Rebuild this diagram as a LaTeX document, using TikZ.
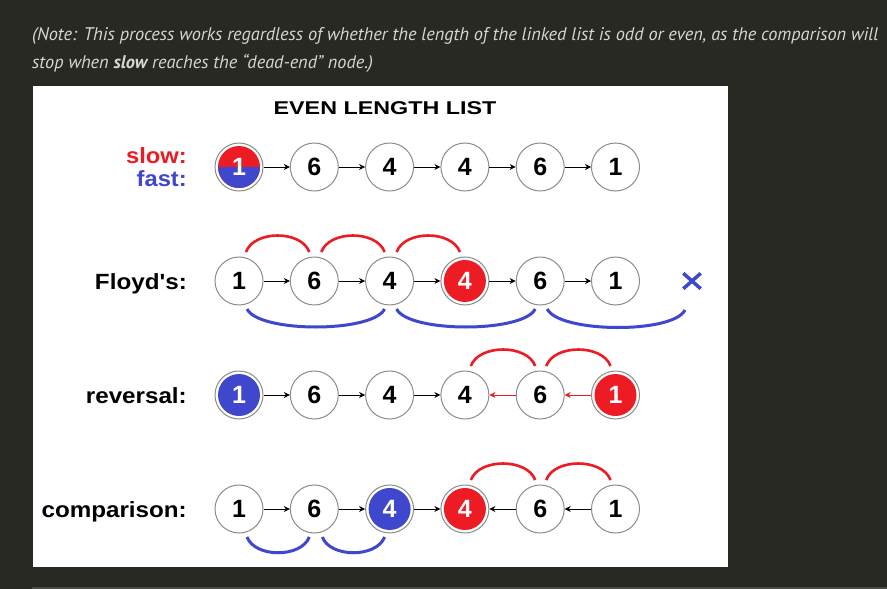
\documentclass[tikz,border=0pt]{standalone}
\usepackage{fontspec}
\setmainfont{Liberation Sans}[Ligatures=TeXOff]
\newfontfamily\notefont{PT Sans}
\usetikzlibrary{arrows.meta,calc}
\definecolor{bg}{HTML}{282923}
\definecolor{pred}{HTML}{ED1C24}
\definecolor{pblue}{HTML}{3F48CC}
\definecolor{notegray}{HTML}{D6D6D6}
\definecolor{ring}{HTML}{8C8C8C}
\definecolor{rule}{HTML}{4A4A46}
\begin{document}
\begin{tikzpicture}[x=1pt,y=-1pt,
  lnode/.style={circle, minimum size=48pt, inner sep=0pt, draw=ring, line width=1pt, fill=white,
    font=\fontsize{25}{25}\selectfont\bfseries},
  rnode/.style={lnode, text=white, path picture={\fill[pred] (path picture bounding box.center) circle (21pt);}},
  bnode/.style={lnode, text=white, path picture={\fill[pblue] (path picture bounding box.center) circle (21pt);}},
  snode/.style={lnode, text=white, path picture={
      \fill[pred] (path picture bounding box.center) circle (21pt);
      \begin{scope}
        \clip (path picture bounding box.center) circle (21pt);
        \fill[pblue] (path picture bounding box.west) rectangle (path picture bounding box.south east);
      \end{scope}}},
  conn/.style={-{Stealth[length=6pt,width=6pt]}, line width=0.9pt, draw=black},
  rconn/.style={conn, draw=pred, -{Stealth[length=6pt,width=6pt,fill=pred]}},
  redarc/.style={draw=pred, line width=2.6pt},
  bluearc/.style={draw=pblue, line width=3pt},
  lab/.style={anchor=base east, font=\fontsize{22}{22}\selectfont\bfseries, inner sep=0pt},
  notetext/.style={anchor=base west, inner sep=0pt, text=notegray, font=\notefont\fontsize{18.3}{18.3}\selectfont\itshape}
]
\useasboundingbox (0,0) rectangle (887,589);
\fill[bg] (0,0) rectangle (887,589);
\fill[white] (33,86) rectangle (728,567);
\draw[rule, line width=2pt] (32,588) -- (887,588);

% note text
\node[notetext] (note1) at (32,41) {(Note: This process works regardless of whether the length of the linked list is odd or even, as the comparison will};
\node[notetext] (note2) at (32,68) {stop when \textbf{slow} reaches the “dead-end” node.)};

% title
\node[inner sep=0pt, anchor=base, font=\fontsize{18.5}{18.5}\selectfont\bfseries] (title) at (385,114) {\scalebox{1.26}[1]{EVEN LENGTH LIST}};

% labels
\node[lab, text=pred] (lslow) at (187,163) {\scalebox{1.08}[1]{slow:}};
\node[lab, text=pblue] (lfast) at (187,186) {\scalebox{1.08}[1]{fast:}};
\node[lab] (lfloyd) at (187,289) {\scalebox{1.1}[1]{Floyd's:}};
\node[lab] (lrev) at (187,403) {\scalebox{1.1}[1]{reversal:}};
\node[lab] (lcmp) at (187,517) {\scalebox{1.1}[1]{comparison:}};

% row 1
\node[snode] (a1) at (239,167) {1};
\node[lnode] (a2) at (314.3,167) {6};
\node[lnode] (a3) at (389.6,167) {4};
\node[lnode] (a4) at (464.9,167) {4};
\node[lnode] (a5) at (540.2,167) {6};
\node[lnode] (a6) at (615.5,167) {1};
\foreach \i/\j in {a1/a2,a2/a3,a3/a4,a4/a5,a5/a6} \draw[conn] (\i) -- (\j);

% row 2 Floyd's
\node[lnode] (f1) at (239,281) {1};
\node[lnode] (f2) at (314.3,281) {6};
\node[lnode] (f3) at (389.6,281) {4};
\node[rnode] (f4) at (464.9,281) {4};
\node[lnode] (f5) at (540.2,281) {6};
\node[lnode] (f6) at (615.5,281) {1};
\node[minimum width=17pt, minimum height=15pt, inner sep=0pt] (xm) at (692,281) {};
\draw[draw=pblue, line width=3.5pt] (xm.north west) -- (xm.south east) (xm.north east) -- (xm.south west);
\foreach \i/\j in {f1/f2,f2/f3,f3/f4,f4/f5,f5/f6} \draw[conn] (\i) -- (\j);
\foreach \i/\j in {f1/f2,f2/f3,f3/f4}
  \draw[redarc] ($(\i.center)+(7,-29)$) .. controls +(8,-22) and +(-8,-22) .. ($(\j.center)+(-5,-29)$);
\draw[bluearc] ($(f1.center)+(8,28)$) .. controls +(12,24) and +(-12,24) .. ($(f3.center)+(-5,28)$);
\draw[bluearc] ($(f3.center)+(7,28)$) .. controls +(12,24) and +(-12,24) .. ($(f5.center)+(-5,28)$);
\draw[bluearc] ($(f5.center)+(7,28)$) .. controls +(12,24) and +(-12,24) .. ($(xm.center)+(-7,29)$);

% row 3 reversal
\node[bnode] (r1) at (239,395) {1};
\node[lnode] (r2) at (314.3,395) {6};
\node[lnode] (r3) at (389.6,395) {4};
\node[lnode] (r4) at (464.9,395) {4};
\node[lnode] (r5) at (540.2,395) {6};
\node[rnode] (r6) at (615.5,395) {1};
\foreach \i/\j in {r1/r2,r2/r3,r3/r4} \draw[conn] (\i) -- (\j);
\foreach \i/\j in {r5/r4,r6/r5} \draw[rconn] (\i) -- (\j);
\foreach \i/\j in {r4/r5,r5/r6}
  \draw[redarc] ($(\i.center)+(6,-29)$) .. controls +(8,-22) and +(-8,-22) .. ($(\j.center)+(-5,-29)$);

% row 4 comparison
\node[lnode] (c1) at (239,509) {1};
\node[lnode] (c2) at (314.3,509) {6};
\node[bnode] (c3) at (389.6,509) {4};
\node[rnode] (c4) at (464.9,509) {4};
\node[lnode] (c5) at (540.2,509) {6};
\node[lnode] (c6) at (615.5,509) {1};
\foreach \i/\j in {c1/c2,c2/c3,c3/c4,c5/c4,c6/c5} \draw[conn] (\i) -- (\j);
\foreach \i/\j in {c4/c5,c5/c6}
  \draw[redarc] ($(\i.center)+(6,-29)$) .. controls +(8,-22) and +(-8,-22) .. ($(\j.center)+(-5,-29)$);
\foreach \i/\j in {c1/c2,c2/c3}
  \draw[bluearc] ($(\i.center)+(8,28)$) .. controls +(8,21) and +(-8,21) .. ($(\j.center)+(-5,28)$);
\end{tikzpicture}
\end{document}
